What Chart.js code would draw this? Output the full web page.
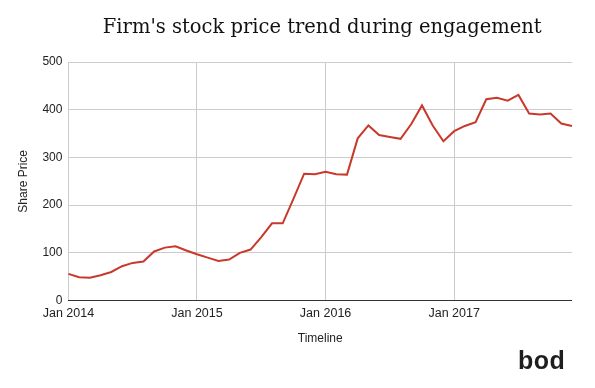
<!DOCTYPE html>
<html>
<head>
<meta charset="utf-8">
<script src="https://cdn.jsdelivr.net/npm/chart.js@4"></script>
<style>
  html, body { margin:0; padding:0; background:#fff; }
  #wrap { position:relative; width:595px; height:388px; }
  #logo {
    position:absolute; left:518px; top:346px;
    font-family:"Liberation Sans", Arial, sans-serif;
    font-weight:bold; font-size:25px; color:#1e1e1e;
    letter-spacing:0.5px; line-height:normal;
  }
</style>
</head>
<body>
<div id="wrap">
  <canvas id="stockChart" width="595" height="388"></canvas>
  <div id="logo">bod</div>
</div>

<script>

/* =========================================
   Data
========================================= */

const chartTitle = "Firm's stock price trend during engagement";

const years = ["2014","2015","2016","2017"];
const monthNames = ["Jan","Feb","Mar","Apr","May","Jun","Jul","Aug","Sep","Oct","Nov","Dec"];

const sharePrice2014 = [56, 49, 48, 53, 60, 72, 79, 82, 103, 111, 114, 105];
const sharePrice2015 = [97, 90, 83, 86, 100, 107, 133, 162, 162, 213, 266, 265];
const sharePrice2016 = [270, 265, 264, 340, 367, 347, 343, 339, 370, 409, 367, 334];
const sharePrice2017 = [355, 366, 374, 422, 425, 419, 431, 392, 390, 392, 371, 366];

const yTicks = [0, 100, 200, 300, 400, 500];

const labels = [];
years.forEach(y=>monthNames.forEach(m=>labels.push(m + " " + y)));

const sharePrice = [
    ...sharePrice2014,
    ...sharePrice2015,
    ...sharePrice2016,
    ...sharePrice2017
];


/* =========================================
   Title drawn over the chart area centre
========================================= */

const centeredTitle = {
    id:"centeredTitle",
    afterDraw(chart){
        const c = chart.ctx;
        const area = chart.chartArea;
        c.save();
        c.font = "19.5px 'DejaVu Serif', serif";
        c.fillStyle = "#111";
        c.textAlign = "center";
        c.textBaseline = "alphabetic";
        c.fillText(chartTitle, (area.left + area.right)/2 + 2, 33);
        c.restore();
    }
};


/* =========================================
   Chart
========================================= */

const ctx = document.getElementById("stockChart").getContext("2d");
const axisFont = {family:"'Liberation Sans', Arial, sans-serif", size:12};

new Chart(ctx,{
    type:"line",
    data:{
        labels,
        datasets:[{
            label:"Share Price",
            data:sharePrice,
            borderColor:"#c9392b",
            borderWidth:2,
            pointRadius:0,
            tension:0,
            fill:false
        }]
    },
    options:{
        responsive:false,
        animation:false,
        layout:{
            padding:{left:16, right:23, top:62, bottom:42}
        },
        plugins:{
            legend:{display:false},
            tooltip:{enabled:false},
            title:{display:false}
        },
        scales:{
            x:{
                offset:false,
                grid:{
                    color:"#cccccc",
                    drawTicks:false
                },
                border:{display:false},
                ticks:{
                    autoSkip:false,
                    maxRotation:0,
                    padding:5,
                    color:"#222",
                    font:{family:"'Liberation Sans', Arial, sans-serif", size:12.5},
                    callback:function(val, i){
                        return i % 12 === 0 ? this.getLabelForValue(val) : null;
                    }
                },
                title:{
                    display:true,
                    text:"Timeline",
                    color:"#222",
                    font:axisFont,
                    padding:{top:6, bottom:0}
                }
            },
            y:{
                min:0,
                max:500,
                afterBuildTicks:scale=>{
                    scale.ticks = yTicks.map(v=>({value:v}));
                },
                grid:{
                    color:c=>c.tick && c.tick.value === 0 ? "#333" : "#cccccc",
                    drawTicks:false
                },
                border:{display:false},
                ticks:{
                    padding:6,
                    color:"#222",
                    font:axisFont
                },
                title:{
                    display:true,
                    text:"Share Price",
                    color:"#222",
                    font:axisFont,
                    padding:{top:0, bottom:6}
                }
            }
        }
    },
    plugins:[centeredTitle]
});

</script>
</body>
</html>
